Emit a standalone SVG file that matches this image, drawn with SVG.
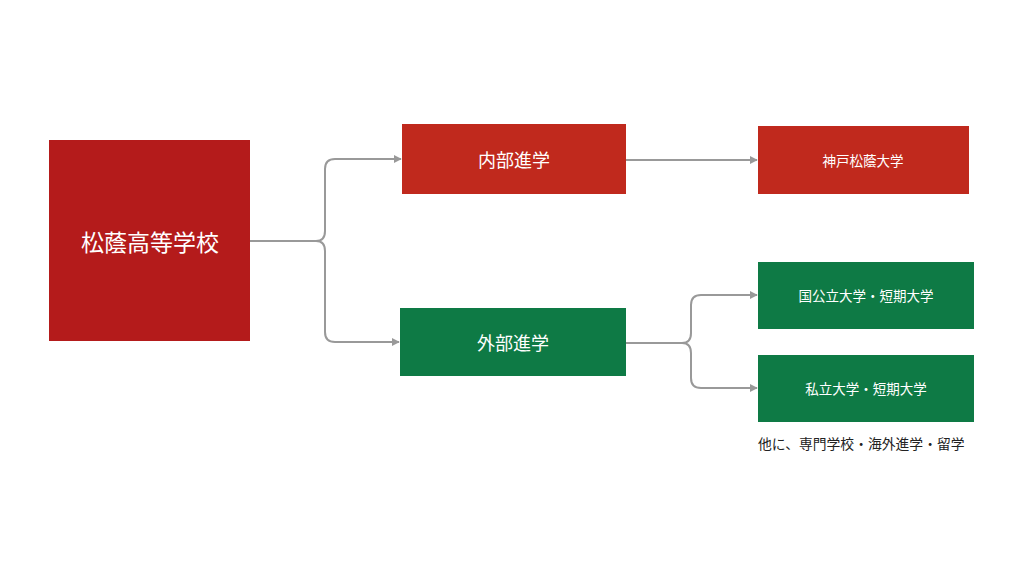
<svg xmlns="http://www.w3.org/2000/svg" width="1024" height="576" viewBox="0 0 1024 576">
<style>
text{font-family:"Noto Sans CJK JP","Noto Sans CJK SC",sans-serif;fill:#fff;text-anchor:middle;dominant-baseline:central}
.red{fill:#b41b1b}
.red2{fill:#c0291d}
.green{fill:#0e7a45}
.c{fill:none;stroke:#999;stroke-width:2}
.note{fill:#222;text-anchor:start}
</style>
<defs>
<marker id="ar" viewBox="0 0 10 10" refX="9" refY="5" markerWidth="4" markerHeight="4" orient="auto" markerUnits="strokeWidth">
<path d="M0,0L10,5L0,10z" fill="#999"/>
</marker>
</defs>
<rect width="1024" height="576" fill="#fff"/>
<g id="connectors">
<path class="c" d="M250,241H316Q325,241 325,231V169Q325,159 335,159H401" marker-end="url(#ar)"/>
<path class="c" d="M316,241Q325,241 325,251V332Q325,342 335,342H399" marker-end="url(#ar)"/>
<path class="c" d="M626,160H757" marker-end="url(#ar)"/>
<path class="c" d="M626,343H682Q691,343 691,333V305Q691,295 701,295H757" marker-end="url(#ar)"/>
<path class="c" d="M682,343Q691,343 691,353V378Q691,388 701,388H757" marker-end="url(#ar)"/>
</g>
<g id="n-shoin-high">
<rect class="red" x="49" y="140" width="201" height="201"/>
<text x="150" y="241" font-size="23">松蔭高等学校</text>
</g>
<g id="n-naibu">
<rect class="red2" x="402" y="124" width="224" height="70"/>
<text x="514" y="159" font-size="18">内部進学</text>
</g>
<g id="n-gaibu">
<rect class="green" x="400" y="308" width="226" height="68"/>
<text x="513" y="342" font-size="18">外部進学</text>
</g>
<g id="n-kobe">
<rect class="red2" x="758" y="126" width="211" height="68"/>
<text x="863" y="160" font-size="13.5">神戸松蔭大学</text>
</g>
<g id="n-kokkoritsu">
<rect class="green" x="758" y="262" width="216" height="67"/>
<text x="866" y="295" font-size="13.5">国公立大学・短期大学</text>
</g>
<g id="n-shiritsu">
<rect class="green" x="758" y="355" width="216" height="67"/>
<text x="866" y="388" font-size="13.5">私立大学・短期大学</text>
</g>
<text class="note" x="758" y="443" font-size="13.8">他に、専門学校・海外進学・留学</text>
</svg>
